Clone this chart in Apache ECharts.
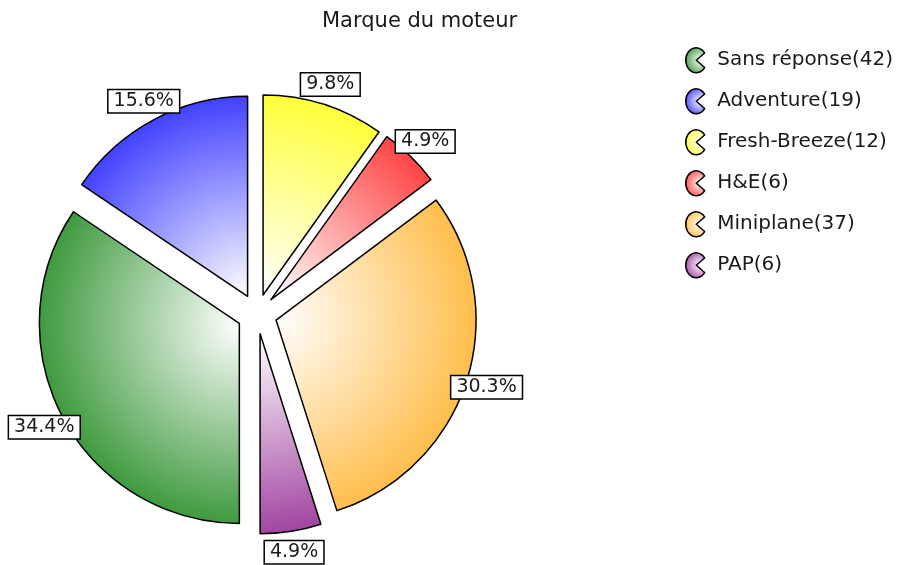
<!DOCTYPE html>
<html>
<head>
<meta charset="utf-8">
<script src="https://cdn.jsdelivr.net/npm/echarts@6/dist/echarts.min.js"></script>
<style>
  html, body { margin: 0; padding: 0; background: #fff; }
  #chart { width: 898px; height: 565px; }
</style>
</head>
<body>
<div id="chart"></div>
<script>
// Marque du moteur
var brands = ["Sans réponse", "Adventure", "Fresh-Breeze", "H&E", "Miniplane", "PAP"];
var counts = [42, 19, 12, 6, 37, 6];
var colors = ["#3f9a3f", "#4242ff", "#ffff3a", "#ff4545", "#ffbe4c", "#a145a1"];

var font = "DejaVu Sans";
var center = [257, 314];
var radius = 200;
var total = counts.reduce(function (a, b) { return a + b; }, 0);

function sliceColor(c) {
  // white near the middle of the pie, full colour at the rim
  return {
    type: "radial", x: center[0], y: center[1], r: radius, global: true,
    colorStops: [{ offset: 0, color: "#ffffff" }, { offset: 1, color: c }]
  };
}

function iconColor(c) {
  return {
    type: "radial", x: 0.75, y: 0.5, r: 0.8,
    colorStops: [{ offset: 0, color: "#ffffff" }, { offset: 1, color: c }]
  };
}

var chart = echarts.init(document.getElementById("chart"));

chart.setOption({
  animation: false,
  title: {
    text: "Marque du moteur",
    left: 317,
    top: 6,
    textStyle: { fontFamily: font, fontSize: 21, fontWeight: "normal", color: "#1a1a1a" }
  },
  legend: {
    orient: "vertical",
    left: 680,
    top: 42,
    itemWidth: 20,
    itemHeight: 25,
    itemGap: 14.5,
    icon: "path://M19,5 L11,12 L19,19 A10,12 0 1,1 19,5 Z",
    itemStyle: { borderColor: "#000", borderWidth: 1.5 },
    textStyle: { fontFamily: font, fontSize: 20, color: "#1a1a1a", padding: [0, 0, 0, 7] },
    formatter: function (name) {
      return name + "(" + counts[brands.indexOf(name)] + ")";
    },
    data: brands.map(function (b, i) {
      return { name: b, itemStyle: { color: iconColor(colors[i]) } };
    })
  },
  series: [
    {
      name: "Marque du moteur",
      type: "pie",
      center: center,
      radius: radius,
      startAngle: -90,
      clockwise: true,
      selectedMode: "multiple",
      selectedOffset: 20,
      silent: true,
      label: { show: false },
      labelLine: { show: false },
      itemStyle: { borderColor: "#000", borderWidth: 1.5 },
      data: brands.map(function (b, i) {
        return { name: b, value: counts[i], selected: true, itemStyle: { color: sliceColor(colors[i]) } };
      })
    },
    {
      // transparent ring only used to place the percentage boxes
      name: "labels",
      type: "pie",
      center: center,
      radius: [188, 248],
      startAngle: -90,
      clockwise: true,
      selectedMode: "multiple",
      selectedOffset: 20,
      silent: true,
      z: 5,
      itemStyle: { color: "rgba(0,0,0,0)", borderWidth: 0 },
      labelLine: { show: false },
      label: {
        show: true,
        position: "inside",
        formatter: function (p) {
          return (p.value / total * 100).toFixed(1) + "%";
        },
        fontFamily: font,
        fontSize: 19,
        color: "#1a1a1a",
        backgroundColor: "#fff",
        borderColor: "#000",
        borderWidth: 1.5,
        padding: [2, 5, 1, 5]
      },
      data: brands.map(function (b, i) {
        return { name: b, value: counts[i], selected: true };
      })
    }
  ]
});
</script>
</body>
</html>
